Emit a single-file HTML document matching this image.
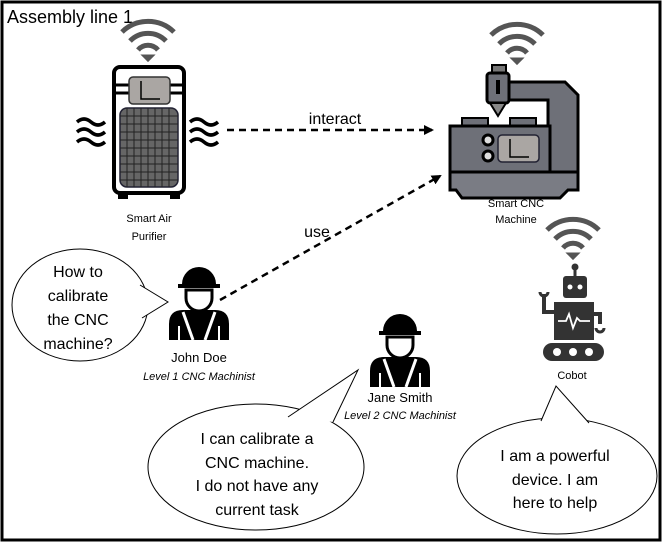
<!DOCTYPE html>
<html><head><meta charset="utf-8"><style>
html,body{margin:0;padding:0;background:#fff}
svg{display:block}
text{font-family:"Liberation Sans",sans-serif;fill:#000}
</style></head><body>
<svg width="663" height="544" viewBox="0 0 663 544" xmlns="http://www.w3.org/2000/svg">
<defs>
<marker id="ah" markerWidth="10" markerHeight="10" refX="8" refY="5" orient="auto" markerUnits="userSpaceOnUse">
<path d="M0,0 L10,5 L0,10 z" fill="#000"/></marker>
<g id="wifi" fill="none" stroke="#555" stroke-width="5">
<path d="M-26,-18 A37,37 0 0 1 26,-18"/>
<path d="M-18,-9 A25,25 0 0 1 18,-9"/>
<path d="M-10,0 A13,13 0 0 1 10,0"/>
<path d="M-4,6 L0,10 L4,6 Z" fill="#555" stroke-width="3"/>
</g>
<g id="worker">
<path d="M-17,-22 A17,17 0 0 1 17,-22 L21,-22 L21,-18 L-21,-18 L-21,-22 Z" fill="#000"/>
<path d="M-13,-16 L13,-16 L13,-8 A13,13 0 0 1 -13,-8 Z" fill="#fff" stroke="#000" stroke-width="3"/>
<path d="M-30,34 L-30,18 Q-30,4 -16,4 L16,4 Q30,4 30,18 L30,34 Z" fill="#000"/>
<path d="M-16,6 L-6,34 M16,6 L6,34" stroke="#fff" stroke-width="3"/>
<path d="M-20,20 L-20,34 M20,20 L20,34" stroke="#fff" stroke-width="2"/>
</g>
</defs>
<rect x="2" y="2" width="658" height="538" fill="#fff" stroke="#000" stroke-width="3"/>
<text x="7" y="23" font-size="18">Assembly line 1</text>

<use href="#wifi" x="148" y="50"/>
<rect x="114" y="67" width="70" height="126" rx="6" fill="#fff" stroke="#000" stroke-width="4"/>
<line x1="114" y1="85" x2="184" y2="85" stroke="#000" stroke-width="3"/>
<line x1="114" y1="93" x2="184" y2="93" stroke="#000" stroke-width="3"/>
<rect x="129" y="77" width="41" height="27" rx="4" fill="#aaa6a3" stroke="#333" stroke-width="1.5"/>
<path d="M141,81 L141,99 L160,99" stroke="#000" stroke-width="1.5" fill="none"/>
<rect x="120" y="108" width="58" height="79" rx="7" fill="#666" stroke="#223" stroke-width="1.5"/>
<g stroke="#222" stroke-width="1">
<path d="M127,108V187M134,108V187M141,108V187M148,108V187M155,108V187M162,108V187M169,108V187"/>
<path d="M120,116H178M120,124H178M120,132H178M120,140H178M120,148H178M120,156H178M120,164H178M120,172H178M120,180H178"/>
</g>
<rect x="118" y="193" width="10" height="6" fill="#000"/><rect x="170" y="193" width="10" height="6" fill="#000"/>
<g fill="none" stroke="#000" stroke-width="3.5">
<path d="M77,122 q7,-6 14,0 t14,0 M77,132 q7,-6 14,0 t14,0 M77,142 q7,-6 14,0 t14,0"/>
<path d="M190,122 q7,-6 14,0 t14,0 M190,132 q7,-6 14,0 t14,0 M190,142 q7,-6 14,0 t14,0"/>
</g>
<text x="149" y="222" font-size="11" text-anchor="middle">Smart Air</text>
<text x="149" y="240" font-size="11" text-anchor="middle">Purifier</text>

<use href="#wifi" x="517" y="53"/>
<path d="M508,82 L565,82 L578,95 L578,190 L548,190 L548,100 L508,100 Z" fill="#6e7078" stroke="#000" stroke-width="3"/>
<rect x="492" y="65" width="14" height="10" fill="#777" stroke="#000" stroke-width="2"/>
<rect x="487" y="73" width="22" height="30" rx="3" fill="#6e7078" stroke="#000" stroke-width="3"/>
<rect x="496" y="80" width="4" height="14" fill="#000"/>
<path d="M490,103 L506,103 L498,116 Z" fill="#888" stroke="#000" stroke-width="2"/>
<rect x="462" y="118" width="26" height="9" fill="#6e7078" stroke="#000" stroke-width="2"/>
<rect x="510" y="118" width="26" height="9" fill="#6e7078" stroke="#000" stroke-width="2"/>
<rect x="450" y="126" width="100" height="46" fill="#6e7078" stroke="#000" stroke-width="3"/>
<path d="M450,172 L578,172 L578,190 L568,190 L560,198 L462,198 L456,190 L450,190 Z" fill="#7a7c84" stroke="#000" stroke-width="3"/>
<circle cx="488" cy="140" r="5" fill="#ddd" stroke="#000" stroke-width="3"/>
<circle cx="488" cy="156" r="5" fill="#ddd" stroke="#000" stroke-width="3"/>
<rect x="498" y="135" width="41" height="27" rx="4" fill="#aaa6a3" stroke="#223" stroke-width="1.5"/>
<path d="M510,139 L510,157 L529,157" stroke="#000" stroke-width="1.5" fill="none"/>
<text x="516" y="207" font-size="11" text-anchor="middle">Smart CNC</text>
<text x="516" y="223" font-size="11" text-anchor="middle">Machine</text>

<line x1="227" y1="130" x2="432" y2="130" stroke="#000" stroke-width="2.5" stroke-dasharray="7,5" marker-end="url(#ah)"/>
<text x="335" y="124" font-size="16" text-anchor="middle">interact</text>
<line x1="220" y1="300" x2="440" y2="176" stroke="#000" stroke-width="2.5" stroke-dasharray="7,5" marker-end="url(#ah)"/>
<text x="317" y="237" font-size="16" text-anchor="middle">use</text>

<use href="#worker" x="199" y="306"/>
<text x="199" y="362" font-size="13" text-anchor="middle">John Doe</text>
<text x="199" y="380" font-size="11" font-style="italic" text-anchor="middle">Level 1 CNC Machinist</text>
<use href="#worker" x="400" y="353"/>
<text x="400" y="402" font-size="13" text-anchor="middle">Jane Smith</text>
<text x="400" y="419" font-size="11" font-style="italic" text-anchor="middle">Level 2 CNC Machinist</text>

<use href="#wifi" x="573" y="248"/>
<line x1="575" y1="267" x2="575" y2="276" stroke="#333" stroke-width="3"/>
<circle cx="575" cy="267" r="3.5" fill="#333"/>
<rect x="563" y="276" width="24" height="22" rx="3" fill="#333"/>
<circle cx="570" cy="287" r="2.5" fill="#fff"/><circle cx="580" cy="287" r="2.5" fill="#fff"/>
<path d="M544,294 L544,312 L556,312" fill="none" stroke="#333" stroke-width="4"/>
<path d="M540,292 a4,4 0 0 0 8,0" fill="none" stroke="#333" stroke-width="3"/>
<path d="M593,314 L600,314 L600,324" fill="none" stroke="#333" stroke-width="4"/>
<path d="M596,328 a4,4 0 0 0 8,0" fill="none" stroke="#333" stroke-width="3"/>
<rect x="554" y="302" width="40" height="38" fill="#333"/>
<path d="M558,321 L566,321 L569,314 L573,328 L577,318 L580,321 L590,321" fill="none" stroke="#fff" stroke-width="1.8"/>
<rect x="543" y="343" width="61" height="18" rx="9" fill="#333"/>
<circle cx="557" cy="352" r="4" fill="#fff"/><circle cx="573" cy="352" r="4" fill="#fff"/><circle cx="589" cy="352" r="4" fill="#fff"/>
<text x="572" y="379" font-size="11" text-anchor="middle">Cobot</text>

<g fill="#fff" stroke="#000" stroke-width="1">
<ellipse cx="80" cy="305" rx="68" ry="56"/>
<polyline points="140,285 168,302 142,318"/>
<ellipse cx="256" cy="467" rx="108" ry="63"/>
<polyline points="288,417 358,370 333,422"/>
<ellipse cx="557" cy="476" rx="100" ry="58"/>
<polyline points="541,421 556,386 589,423"/>
</g>
<g font-size="16" text-anchor="middle">
<text x="78" y="277">How to</text>
<text x="78" y="301">calibrate</text>
<text x="78" y="325">the CNC</text>
<text x="78" y="349">machine?</text>
<text x="257" y="444">I can calibrate a</text>
<text x="257" y="468">CNC  machine.</text>
<text x="257" y="491">I do not have any</text>
<text x="257" y="515">current task</text>
<text x="555" y="461">I am a powerful</text>
<text x="555" y="485">device. I am</text>
<text x="555" y="508">here to help</text>
</g>
</svg>
</body></html>
